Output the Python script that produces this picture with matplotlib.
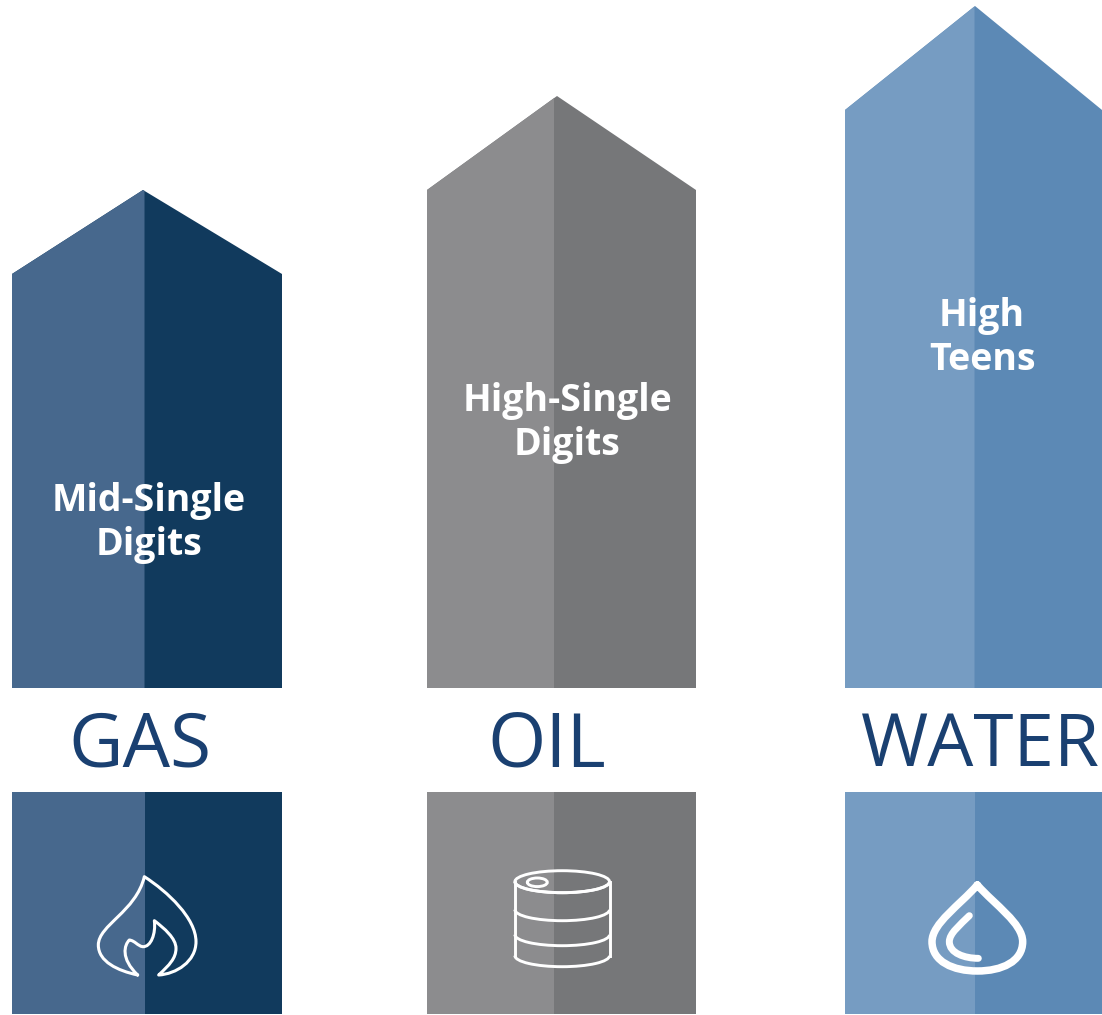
import matplotlib
matplotlib.use("Agg")
import matplotlib.pyplot as plt
from matplotlib.patches import Polygon, Rectangle, PathPatch, Ellipse, Arc
from matplotlib.path import Path

# data
categories = ["GAS", "OIL", "WATER"]
growth_labels = ["Mid-Single\nDigits", "High-Single\nDigits", "High\nTeens"]
peak_heights = [498, 592, 682]

# layout / style (pixels)
W, H = 1102, 1015
base_y = 688
lefts = [12, 427, 845]
splits = [144.5, 554, 974.5]
rights = [282, 696, 1102]
peak_x = [143, 557, 975]
shoulder_drop = [84, 94, 104]
light = ["#47688D", "#8C8C8E", "#769CC2"]
dark = ["#113A5D", "#767779", "#5C89B5"]
label_xy = [(149, 523), (567, 423), (982, 338)]
title_x = [140, 547, 980]
title_size = [54, 54, 52.5]
box_top, box_bottom = 792, 1014
title_col = "#1A4071"
font = ["Open Sans", "DejaVu Sans"]

fig = plt.figure(figsize=(W / 100, H / 100), dpi=100, facecolor="white")
ax = fig.add_axes([0, 0, 1, 1])
ax.set_xlim(0, W)
ax.set_ylim(H, 0)
ax.axis("off")

for i, cat in enumerate(categories):
    top = base_y - peak_heights[i]
    sh = top + shoulder_drop[i]
    s = splits[i]
    # roof height where the shade changes
    if s >= peak_x[i]:
        roof = top + (s - peak_x[i]) / (rights[i] - peak_x[i]) * (sh - top)
        left_pts = [(lefts[i], base_y), (lefts[i], sh), (peak_x[i], top), (s, roof), (s, base_y)]
    else:
        roof = top + (peak_x[i] - s) / (peak_x[i] - lefts[i]) * (sh - top)
        left_pts = [(lefts[i], base_y), (lefts[i], sh), (s, roof), (s, base_y)]
    ax.add_patch(Polygon([(lefts[i], base_y), (lefts[i], sh), (peak_x[i], top),
                          (rights[i], sh), (rights[i], base_y)], closed=True, fc=dark[i], ec="none"))
    ax.add_patch(Polygon(left_pts, closed=True, fc=light[i], ec="none"))
    ax.add_patch(Rectangle((lefts[i], box_top), rights[i] - lefts[i], box_bottom - box_top, fc=dark[i], ec="none"))
    ax.add_patch(Rectangle((lefts[i], box_top), s - lefts[i], box_bottom - box_top, fc=light[i], ec="none"))
    ax.text(label_xy[i][0], label_xy[i][1], growth_labels[i], color="white", fontsize=27, fontweight="bold",
            family=font, ha="center", va="center", linespacing=1.19)
    ax.text(title_x[i], 738, cat, color=title_col, fontsize=title_size[i], family=font,
            ha="center", va="center_baseline")


def icon(points, ox, oy, lw):
    verts = [(ox + x / 3, oy + y / 3) for x, y in points]
    codes = [Path.MOVETO] + [Path.CURVE4] * (len(verts) - 1)
    ax.add_patch(PathPatch(Path(verts, codes), fc="none", ec="white", lw=lw, capstyle="round", joinstyle="round"))


# flame icon, outline then inner tongue
icon([(230, 375), (170, 362), (112, 335), (112, 285),
      (112, 225), (225, 185), (250, 80),
      (320, 125), (405, 205), (405, 275),
      (405, 335), (345, 372), (293, 375),
      (325, 345), (345, 325), (345, 295),
      (345, 265), (310, 235), (280, 212),
      (285, 250), (270, 292), (245, 290),
      (230, 288), (222, 272), (205, 270),
      (190, 285), (178, 325), (230, 375)], 61, 850, 2.2)

# barrel icon
cx, cy, rx, ry = 562.2, 881.7, 47.3, 11
ax.add_patch(Ellipse((cx, cy), 2 * rx, 2 * ry, fc="none", ec="white", lw=2.1))
ax.add_patch(Ellipse((537.3, 882.3), 20, 8.6, fc="none", ec="white", lw=2.1))
for yy in (cy, cy + 28, cy + 53, cy + 74):
    ax.add_patch(Arc((cx, yy), 2 * rx, 2 * ry, theta1=0, theta2=180, ec="white", lw=2.1))
ax.plot([cx - rx, cx - rx], [cy, cy + 74], color="white", lw=2.1)
ax.plot([cx + rx, cx + rx], [cy, cy + 74], color="white", lw=2.1)

# drop icon
icon([(232, 75), (180, 135), (96, 190), (96, 245),
      (96, 305), (160, 333), (232, 333),
      (305, 333), (368, 305), (368, 245),
      (368, 190), (285, 135), (232, 75)], 900, 860, 5.4)
icon([(208, 167), (180, 195), (148, 220), (148, 245),
      (148, 280), (195, 295), (235, 295)], 900, 860, 5.0)

fig.savefig("out.png", dpi=100)
